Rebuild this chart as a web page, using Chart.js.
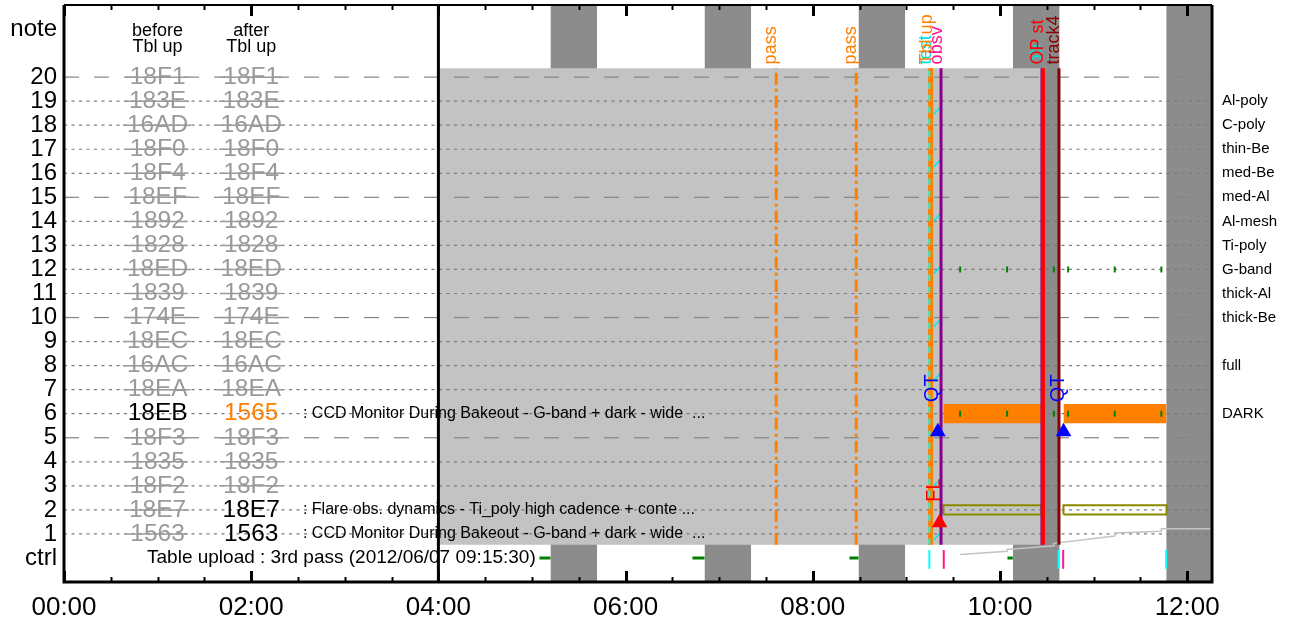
<!DOCTYPE html>
<html><head><meta charset="utf-8">
<script src="https://cdn.jsdelivr.net/npm/chart.js@4/dist/chart.umd.min.js"></script>
<style>html,body{margin:0;padding:0;background:#fff}#wrap{width:1296px;height:625px;position:relative}</style>
</head><body><div id="wrap"><canvas id="c"></canvas></div>
<script>
const FONT = '"Liberation Sans", Arial, Helvetica, sans-serif';
// ---------------- data ----------------
const X_MIN = 0, X_MAX = 12.265;          // hours
const Y_MIN = -1, Y_MAX = 23;
const yTickValues = [0,1,2,3,4,5,6,7,8,9,10,11,12,13,14,15,16,17,18,19,20,22];
const xTickHours = [0,2,4,6,8,10,12];

const rows = [20,19,18,17,16,15,14,13,12,11,10,9,8,7,6,5,4,3,2,1];
const dashedRows = [20,15,10,5];
const beforeCodes = ['18F1','183E','16AD','18F0','18F4','18EF','1892','1828','18ED','1839','174E','18EC','16AC','18EA','18EB','18F3','1835','18F2','18E7','1563'];
const afterCodes  = ['18F1','183E','16AD','18F0','18F4','18EF','1892','1828','18ED','1839','174E','18EC','16AC','18EA','1565','18F3','1835','18F2','18E7','1563'];
const beforeState = ['old','old','old','old','old','old','old','old','old','old','old','old','old','old','cur','old','old','old','old','old'];
const afterState  = ['old','old','old','old','old','old','old','old','old','old','old','old','old','old','new','old','old','old','cur','cur'];

const filterRows  = [19,18,17,16,15,14,13,12,11,10,8,6];
const filterNames = ['Al-poly','C-poly','thin-Be','med-Be','med-Al','Al-mesh','Ti-poly','G-band','thick-Al','thick-Be','full','DARK'];

const descRows  = [6,2,1];
const descTexts = [': CCD Monitor During Bakeout - G-band + dark - wide  ...',
                   ': Flare obs. dynamics - Ti_poly high cadence + conte ...',
                   ': CCD Monitor During Bakeout - G-band + dark - wide  ...'];
const ctrlText = 'Table upload : 3rd pass (2012/06/07 09:15:30)';

const nightStart = [5.197, 6.843, 8.488, 10.137, 11.776];
const nightEnd   = [5.696, 7.342, 8.987, 10.637, 12.265];
const obsStart = 4.0, obsEnd = 10.443, obsBottom = 0.55, obsTop = 20.37;
const startLine = 4.0;

const passTimes = [7.609, 8.464];
const tblUpTime = 9.2583;
const testTime = 9.245;
const obsvTime = 9.370;
const opEdgeTime = 10.443;
const opStartTime = 10.459;
const track4Time = 10.630;

const barStart = [9.396, 10.678];
const barEnd   = [10.443, 11.779];
const darkRow = 6, flareRow = 2;
const gbandTicks = [9.574, 10.076, 10.575, 10.728, 11.226, 11.724];
const tickRows = [12, 6];

const qtTimes = [9.336, 10.679]; const qtLevel = 5.25;
const flTimes = [9.354];         const flLevel = 1.46;

const cyanMarkY = [18.63, 16.43, 14.19, 11.99, 9.79, 7.55, 5.36, 3.16, 0.92];

const ctrlGreenStart = [5.080, 6.714, 8.392, 10.080];
const ctrlGreenEnd   = [5.197, 6.843, 8.488, 10.137];
const ctrlCyan = [9.245, 10.625, 11.776];
const ctrlPink = [9.399, 10.675];
const volumeX = [9.574, 10.076, 10.076, 10.575, 10.575, 11.226, 11.226, 11.724, 11.724, 12.265];
const volumeY = [0.14, 0.28, 0.35, 0.51, 0.61, 0.91, 1.04, 1.11, 1.21, 1.21];

const topLabels = [
  {t: passTimes[0], text: 'pass', color: '#ff8000'},
  {t: passTimes[1], text: 'pass', color: '#ff8000'},
  {t: 9.262, text: 'test', color: '#00e0e0'},
  {t: 9.272, text: 'Tbl up', color: '#ff8000'},
  {t: 9.385, text: 'obsv', color: '#ff1493'},
  {t: 10.452, text: 'ob', color: '#00e0e0'},
  {t: 10.459, text: 'OP st', color: '#ff0000'},
  {t: 10.632, text: 'track4', color: '#8b0000'}
];
const topLabelLevel = 20.53;

// ---------------- datasets ----------------
const ds = [];
const NONE = 'rgba(0,0,0,0)';
function fillRect(x0, x1, y0, y1, color, order) {
  ds.push({data:[{x:x0,y:y1},{x:x1,y:y1}], fill:{value:y0}, backgroundColor:color, borderColor:NONE, borderWidth:1, pointRadius:0, order});
}
function seg(points, color, width, order, dash) {
  ds.push({data:points, borderColor:color, borderWidth:width, borderDash:dash||[], pointRadius:0, fill:false, order, spanGaps:false});
}
function vline(t, y0, y1, color, width, order, dash) { seg([{x:t,y:y0},{x:t,y:y1}], color, width, order, dash); }

nightStart.forEach((s,i)=> fillRect(s, nightEnd[i], Y_MIN, Y_MAX, '#8c8c8c', 100));
fillRect(obsStart, obsEnd, obsBottom, obsTop, '#c3c3c3', 95);
rows.forEach(r => {
  const dashed = dashedRows.includes(r);
  seg([{x:X_MIN,y:r},{x:X_MAX,y:r}], dashed ? '#858585' : '#7a7a7a', 1.2, 90, dashed ? [15,15] : [3,4.5]);
});
vline(startLine, Y_MIN, Y_MAX, '#000000', 3, 85);
seg(volumeX.map((x,i)=>({x, y:volumeY[i]})), '#c4c4c4', 1.5, 80);
barStart.forEach((s,i)=> fillRect(s, barEnd[i], darkRow-0.4, darkRow+0.4, '#ff8000', 70));
barStart.forEach((s,i)=> seg([{x:s,y:flareRow-0.19},{x:barEnd[i],y:flareRow-0.19},{x:barEnd[i],y:flareRow+0.19},{x:s,y:flareRow+0.19},{x:s,y:flareRow-0.19}], '#8a8a00', 2, 70));
tickRows.forEach(r => ds.push({data:gbandTicks.map(x=>({x,y:r})), showLine:false, pointStyle:'line', pointRotation:90, pointRadius:3, pointBorderColor:'#008000', pointBorderWidth:2, borderColor:'#008000', order:60}));
passTimes.forEach(t => vline(t, obsBottom, obsTop, '#ff8000', 3, 55, [12,4,3,4]));
const cyanPts = [];
cyanMarkY.forEach(c => { cyanPts.push({x:9.29,y:c-0.17},{x:9.375,y:c+0.17},{x:9.33,y:null}); });
seg(cyanPts, '#00e8e8', 1.5, 52);
vline(tblUpTime, obsBottom, obsTop, '#ff8000', 5, 50);
vline(testTime, obsBottom, obsTop, '#00ffff', 2, 49, [6,6]);
vline(obsvTime, obsBottom, obsTop, '#8b008b', 3, 48);
vline(opEdgeTime, obsBottom, obsTop, '#8b008b', 2, 47);
vline(opStartTime, obsBottom, obsTop, '#ff0000', 4, 46);
vline(track4Time, obsBottom, obsTop, '#8b0000', 3, 45);
ds.push({data:qtTimes.map(x=>({x,y:qtLevel})), showLine:false, pointStyle:'triangle', pointRadius:9, pointBackgroundColor:'#0000ff', pointBorderWidth:0, order:40});
ds.push({data:flTimes.map(x=>({x,y:flLevel})), showLine:false, pointStyle:'triangle', pointRadius:9, pointBackgroundColor:'#ff0000', pointBorderWidth:0, order:40});
const greenPts = [];
ctrlGreenStart.forEach((s,i)=>{ greenPts.push({x:s,y:0},{x:ctrlGreenEnd[i],y:0},{x:ctrlGreenEnd[i]+0.01,y:null}); });
seg(greenPts, '#008000', 3, 40);
ctrlCyan.forEach(t => vline(t, -0.45, 0.33, '#00ffff', 2, 39));
ctrlPink.forEach(t => vline(t, -0.45, 0.33, '#ff1493', 2, 39));

// ---------------- plugin: texts, frame, ticks ----------------
const decor = {
  id: 'decor',
  afterDatasetsDraw(chart) {
    const {ctx, scales:{x, y}, chartArea:a} = chart;
    ctx.save();
    // header
    ctx.fillStyle = '#000'; ctx.font = '18px ' + FONT; ctx.textAlign = 'center'; ctx.textBaseline = 'middle';
    [[1,'before'],[2,'after']].forEach(([t,w]) => {
      ctx.fillText(w, x.getPixelForValue(t), y.getPixelForValue(21.92));
      ctx.fillText('Tbl up', x.getPixelForValue(t), y.getPixelForValue(21.25));
    });
    // codes
    ctx.font = '24.5px ' + FONT;
    const drawCode = (t, code, state, r) => {
      const px = x.getPixelForValue(t), py = y.getPixelForValue(r);
      ctx.fillStyle = state === 'old' ? '#9a9a9a' : (state === 'new' ? '#ff8000' : '#000');
      ctx.fillText(code, px, py);
      if (state === 'old') {
        const w = ctx.measureText(code).width;
        ctx.strokeStyle = '#9a9a9a'; ctx.lineWidth = 1.5;
        ctx.beginPath(); ctx.moveTo(px - w/2 - 4, py); ctx.lineTo(px + w/2 + 3, py); ctx.stroke();
      }
    };
    rows.forEach((r,i) => { drawCode(1, beforeCodes[i], beforeState[i], r); drawCode(2, afterCodes[i], afterState[i], r); });
    // descriptions
    ctx.fillStyle = '#000'; ctx.font = '16px ' + FONT; ctx.textAlign = 'left';
    descRows.forEach((r,i) => ctx.fillText(descTexts[i], x.getPixelForValue(2.553), y.getPixelForValue(r)));
    ctx.font = '19px ' + FONT;
    ctx.fillText(ctrlText, x.getPixelForValue(0.887), y.getPixelForValue(0));
    // filter names (right side)
    ctx.font = '15px ' + FONT;
    filterRows.forEach((r,i) => ctx.fillText(filterNames[i], a.right + 10, y.getPixelForValue(r)));
    // rotated labels
    const vlabel = (text, t, level, color, size) => {
      ctx.save();
      ctx.translate(x.getPixelForValue(t), y.getPixelForValue(level));
      ctx.rotate(-Math.PI/2);
      ctx.font = size + 'px ' + FONT; ctx.fillStyle = color; ctx.textAlign = 'left'; ctx.textBaseline = 'alphabetic';
      ctx.fillText(text, 0, 0);
      ctx.restore();
    };
    topLabels.forEach(l => vlabel(l.text, l.t, topLabelLevel, l.color, 18));
    qtTimes.forEach(t => vlabel('QT', t, 6.48, '#0000ff', 20));
    flTimes.forEach(t => vlabel('FL', t, 2.33, '#ff0000', 20));
    ctx.restore();
  },
  afterDraw(chart) {
    const {ctx, scales:{x}, chartArea:a} = chart;
    ctx.save();
    ctx.strokeStyle = '#000';
    // ticks
    for (let t = 0; t <= 12; t += 0.5) {
      const major = t % 2 === 0;
      const px = Math.round(x.getPixelForValue(t)) + 0.5;
      const len = major ? 11 : 5;
      ctx.lineWidth = major ? 3 : 2;
      ctx.beginPath(); ctx.moveTo(px, a.bottom); ctx.lineTo(px, a.bottom - len); ctx.stroke();
      ctx.beginPath(); ctx.moveTo(px, a.top); ctx.lineTo(px, a.top + len); ctx.stroke();
    }
    // frame
    ctx.lineWidth = 3;
    ctx.beginPath(); ctx.moveTo(a.left, a.top); ctx.lineTo(a.left, a.bottom); ctx.lineTo(a.right, a.bottom); ctx.lineTo(a.right, a.top); ctx.stroke();
    ctx.lineWidth = 2;
    ctx.beginPath(); ctx.moveTo(a.left, a.top); ctx.lineTo(a.right, a.top); ctx.stroke();
    ctx.restore();
  }
};

Chart.defaults.font.family = FONT;
new Chart(document.getElementById('c'), {
  type: 'line',
  data: { datasets: ds },
  options: {
    responsive: true, maintainAspectRatio: false, animation: false, events: [],
    layout: { autoPadding: false, padding: { top: 5, right: 84, left: 0, bottom: 0 } },
    plugins: { legend: { display: false }, tooltip: { enabled: false } },
    scales: {
      x: {
        type: 'linear', min: X_MIN, max: X_MAX,
        afterBuildTicks: s => { s.ticks = xTickHours.map(v => ({value: v})); },
        afterFit: s => { s.height = 43; s.paddingLeft = 0; s.paddingRight = 0; },
        grid: { display: false, drawTicks: false },
        border: { display: false },
        ticks: { autoSkip: false, maxRotation: 0, padding: 10, color: '#000', font: { size: 26 },
          callback: v => String(v).padStart(2,'0') + ':00' }
      },
      y: {
        type: 'linear', min: Y_MIN, max: Y_MAX,
        afterBuildTicks: s => { s.ticks = yTickValues.map(v => ({value: v})); },
        afterFit: s => { s.width = 64; s.paddingTop = 0; s.paddingBottom = 0; },
        grid: { display: false, drawTicks: false },
        border: { display: false },
        ticks: { autoSkip: false, padding: 7, color: '#000', font: { size: 24 },
          callback: v => v === 0 ? 'ctrl' : (v === 22 ? 'note' : String(v)) }
      }
    }
  },
  plugins: [decor]
});
</script></body></html>
